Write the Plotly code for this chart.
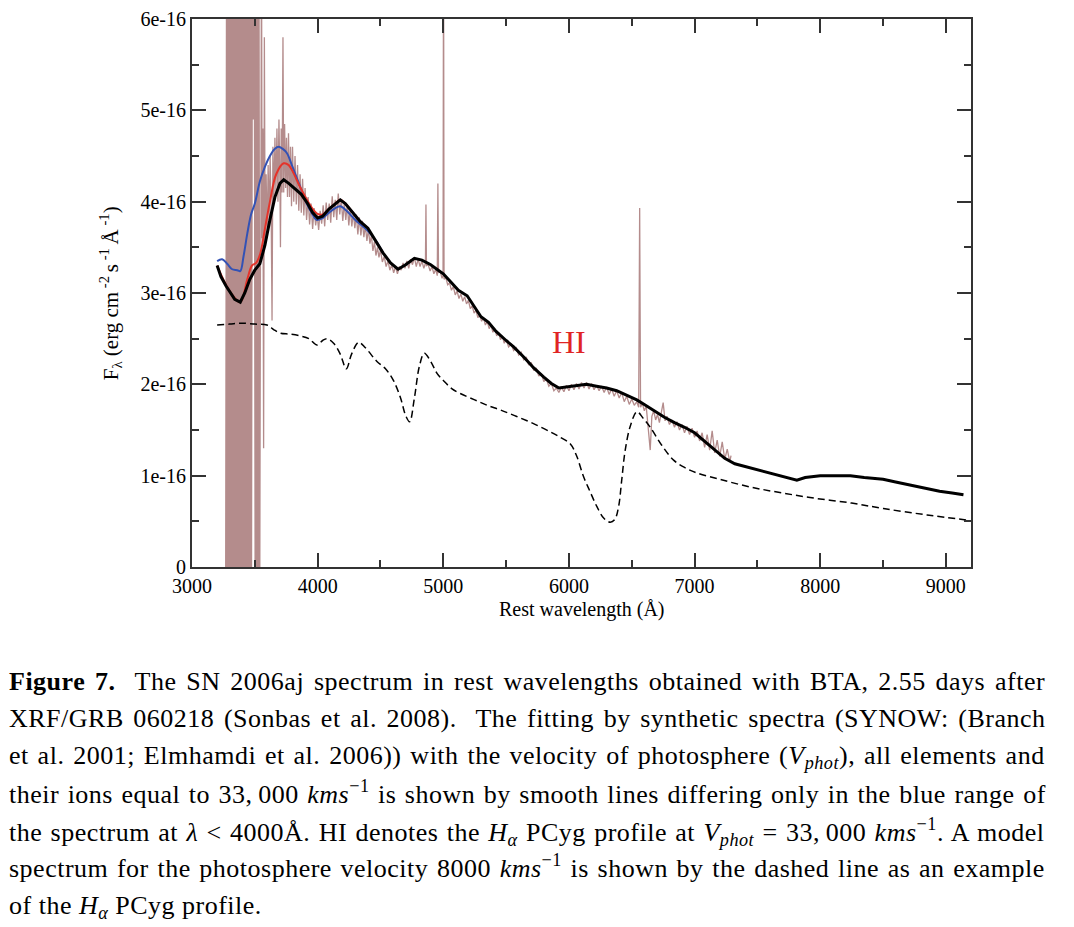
import numpy as np
import plotly.graph_objects as go

# all fluxes below are in units of 1e-16 erg cm^-2 s^-1 A^-1
SCALE = 1e-16

# saturated / noisy blue edge of the BTA spectrum
sat_wave = [3273, 3280, 3287, 3294, 3301, 3308, 3315, 3322, 3329, 3336, 3343, 3350, 3357, 3364, 3371, 3378,
            3385, 3392, 3399, 3406, 3413, 3420, 3427, 3434, 3441, 3448, 3455, 3462, 3469, 3476, 3482, 3488,
            3494, 3500, 3507, 3514, 3521, 3528, 3535, 3540]
sat_flux = [0, 7, 0, 7, 0, 7, 0, 7, 0, 7, 0, 7, 0, 7, 0, 7,
            0, 7, 0, 7, 0, 7, 0, 7, 0, 7, 0, 7, 0, 7, 4.9, 7,
            4.9, 7, 0, 7, 0, 7, 0, 3.3]

# rest of the observed BTA spectrum
obs_wave = [3540, 3548, 3553, 3558, 3564, 3570, 3576, 3582, 3590, 3598, 3606, 3614, 3622, 3630, 3637, 3644,
            3652, 3660, 3668, 3676, 3684, 3692, 3700, 3704, 3710, 3717, 3724, 3730, 3737, 3745, 3752, 3760,
            3768, 3776, 3784, 3792, 3800, 3810, 3820, 3830, 3840, 3850, 3860, 3870, 3880, 3890, 3900, 3912,
            3924, 3936, 3948, 3960, 3972, 3984, 3996, 4008, 4020, 4032, 4044, 4056, 4068, 4080, 4092, 4104,
            4116, 4128, 4140, 4152, 4164, 4176, 4188, 4200, 4212, 4224, 4236, 4248, 4260, 4272, 4284, 4296,
            4308, 4320, 4332, 4344, 4356, 4368, 4380, 4392, 4404, 4416, 4428, 4440, 4452, 4464, 4476, 4488,
            4500, 4515, 4530, 4545, 4560, 4575, 4590, 4605, 4620, 4635, 4650, 4665, 4680, 4695, 4710, 4725,
            4740, 4755, 4770, 4785, 4800, 4815, 4830, 4845, 4858, 4862, 4866, 4880, 4895, 4910, 4925, 4940,
            4952, 4957, 4962, 4975, 4990, 4998, 5002, 5006, 5020, 5035, 5050, 5065, 5080, 5095, 5110, 5125,
            5140, 5155, 5170, 5185, 5200, 5215, 5230, 5245, 5260, 5275, 5290, 5305, 5320, 5335, 5350, 5365,
            5380, 5395, 5410, 5425, 5440, 5455, 5470, 5485, 5500, 5520, 5540, 5560, 5580, 5600, 5620, 5640,
            5660, 5680, 5700, 5720, 5740, 5760, 5780, 5800, 5820, 5840, 5860, 5880, 5900, 5920, 5940, 5960,
            5980, 6000, 6020, 6040, 6060, 6080, 6100, 6120, 6140, 6160, 6180, 6200, 6220, 6240, 6260, 6280,
            6300, 6320, 6340, 6360, 6380, 6400, 6420, 6440, 6460, 6480, 6500, 6520, 6540, 6555, 6563, 6570,
            6585, 6600, 6615, 6630, 6647, 6660, 6675, 6690, 6705, 6720, 6735, 6750, 6765, 6780, 6800, 6820,
            6840, 6860, 6880, 6900, 6920, 6940, 6960, 6980, 7000, 7020, 7040, 7060, 7080, 7100, 7120, 7140,
            7160, 7180, 7200, 7220, 7240, 7260, 7280, 7290]
obs_flux = [3.3, 3.4, 7, 3.6, 4.8, 1.3, 5.8, 3.5, 4.3, 3.6, 4.4, 3.8, 4.5, 3.9, 2.7, 4.6,
            4.0, 4.7, 4.1, 4.8, 4.0, 4.9, 4.2, 3.5, 4.8, 4.1, 5.8, 4.1, 4.85, 4.15, 4.7, 4.05,
            4.75, 4.05, 4.6, 3.95, 4.6, 4.0, 4.5, 3.97, 4.4, 3.9, 4.3, 3.88, 4.25, 3.85, 4.15, 3.8,
            4.05, 3.75, 3.98, 3.7, 3.93, 3.74, 3.86, 3.69, 3.9, 3.76, 3.96, 3.73, 3.99, 3.8, 3.98, 3.77,
            4.06, 3.83, 4.02, 3.8, 4.09, 3.86, 4.03, 3.79, 3.98, 3.8, 3.97, 3.74, 3.93, 3.73, 3.88, 3.71,
            3.86, 3.64, 3.83, 3.63, 3.79, 3.61, 3.74, 3.57, 3.7, 3.54, 3.63, 3.46, 3.56, 3.41, 3.5, 3.39,
            3.47, 3.34, 3.4, 3.29, 3.35, 3.25, 3.31, 3.22, 3.29, 3.21, 3.29, 3.25, 3.33, 3.27, 3.35, 3.27,
            3.37, 3.31, 3.39, 3.29, 3.37, 3.29, 3.35, 3.27, 3.33, 3.97, 3.3, 3.31, 3.24, 3.29, 3.21, 3.26,
            3.19, 4.2, 3.22, 3.24, 3.16, 3.19, 7, 3.15, 3.17, 3.09, 3.11, 3.03, 3.07, 2.98, 3.02, 2.94,
            2.99, 2.91, 2.96, 2.88, 2.92, 2.83, 2.86, 2.78, 2.81, 2.73, 2.76, 2.69, 2.73, 2.65, 2.69, 2.61,
            2.65, 2.57, 2.61, 2.53, 2.57, 2.49, 2.53, 2.45, 2.49, 2.41, 2.44, 2.37, 2.4, 2.32, 2.35, 2.27,
            2.3, 2.21, 2.24, 2.15, 2.18, 2.09, 2.12, 2.03, 2.06, 1.98, 2.01, 1.93, 1.96, 1.91, 1.97, 1.92,
            1.99, 1.93, 2.0, 1.94, 2.01, 1.95, 2.02, 1.96, 2.02, 1.95, 2.01, 1.94, 1.99, 1.93, 1.98, 1.91,
            1.97, 1.89, 1.95, 1.87, 1.93, 1.85, 1.91, 1.81, 1.87, 1.78, 1.84, 1.77, 1.81, 1.75, 3.93, 1.75,
            1.79, 1.71, 1.76, 1.55, 1.28, 1.65, 1.71, 1.61, 1.67, 1.58, 1.69, 1.8, 1.6, 1.65, 1.56, 1.61,
            1.53, 1.59, 1.5, 1.56, 1.47, 1.54, 1.45, 1.52, 1.42, 1.49, 1.38, 1.47, 1.31, 1.45, 1.28, 1.49,
            1.25, 1.39, 1.21, 1.37, 1.18, 1.29, 1.15, 1.22]

# SYNOW fit, Vphot = 33000 km/s (black)
fit_wave = [3200, 3230, 3270, 3300, 3340, 3384, 3420, 3460, 3500, 3540, 3580, 3620, 3660, 3700, 3730, 3770,
            3820, 3870, 3920, 3960, 4000, 4040, 4090, 4140, 4180, 4220, 4280, 4340, 4400, 4460, 4520, 4580,
            4640, 4700, 4770, 4830, 4900, 4960, 5000, 5060, 5120, 5190, 5250, 5300, 5360, 5420, 5500, 5560,
            5640, 5720, 5800, 5860, 5920, 5980, 6060, 6140, 6220, 6300, 6380, 6460, 6540, 6600, 6680, 6760,
            6840, 6920, 7000, 7080, 7160, 7240, 7320, 7400, 7500, 7600, 7700, 7814, 7880, 8000, 8100, 8240,
            8350, 8500, 8600, 8700, 8820, 8950, 9050, 9140]
fit_flux = [3.30, 3.18, 3.08, 3.02, 2.93, 2.90, 3.00, 3.15, 3.25, 3.32, 3.52, 3.80, 4.05, 4.20, 4.24, 4.20,
            4.14, 4.08, 3.98, 3.88, 3.82, 3.84, 3.92, 3.98, 4.02, 3.98, 3.88, 3.78, 3.71, 3.58, 3.44, 3.33,
            3.26, 3.31, 3.38, 3.36, 3.31, 3.25, 3.21, 3.12, 3.03, 2.97, 2.84, 2.74, 2.68, 2.58, 2.48, 2.41,
            2.30, 2.18, 2.08, 2.01, 1.96, 1.97, 1.99, 2.00, 1.98, 1.96, 1.93, 1.88, 1.83, 1.78, 1.71, 1.64,
            1.58, 1.53, 1.47, 1.38, 1.28, 1.19, 1.13, 1.10, 1.07, 1.03, 0.99, 0.95, 0.98, 1.00, 1.00, 1.00,
            0.98, 0.96, 0.93, 0.90, 0.87, 0.83, 0.81, 0.79]

# alternative fits differing in the blue
blue_wave = [3200, 3240, 3280, 3320, 3360, 3384, 3410, 3440, 3470, 3500, 3540, 3580, 3620, 3660, 3690, 3720,
             3756, 3800, 3862, 3920, 3960, 3990, 4040, 4090, 4140, 4180, 4230, 4300, 4393, 4460, 4520]
blue_flux = [3.35, 3.37, 3.32, 3.26, 3.25, 3.24, 3.40, 3.65, 3.86, 3.98, 4.22, 4.38, 4.50, 4.58, 4.60, 4.58,
             4.53, 4.38, 4.16, 3.96, 3.86, 3.80, 3.82, 3.88, 3.93, 3.95, 3.90, 3.80, 3.69, 3.58, 3.44]

red_wave = [3200, 3300, 3384, 3440, 3477, 3510, 3543, 3580, 3623, 3670, 3729, 3770, 3809, 3860, 3915, 3960,
            3995, 4040, 4090, 4140, 4180, 4220, 4280, 4340, 4400]
red_flux = [3.30, 3.02, 2.90, 3.15, 3.30, 3.33, 3.43, 3.70, 4.02, 4.30, 4.42, 4.40, 4.31, 4.16, 4.02, 3.92,
            3.87, 3.86, 3.92, 3.98, 4.02, 3.98, 3.88, 3.78, 3.71]

# model for Vphot = 8000 km/s (dashed)
model_wave = [3200, 3300, 3384, 3500, 3597, 3650, 3703, 3780, 3862, 3930, 3995, 4040, 4074, 4127, 4180, 4228,
              4270, 4326, 4380, 4472, 4540, 4604, 4660, 4700, 4732, 4770, 4810, 4849, 4900, 4950, 5002, 5070,
              5135, 5250, 5350, 5453, 5580, 5718, 5851, 5931, 6010, 6060, 6116, 6170, 6223, 6280, 6329, 6365,
              6395, 6420, 6448, 6490, 6541, 6590, 6647, 6740, 6833, 6920, 7018, 7200, 7443, 7700, 7973, 8250,
              8503, 8850, 9193]
model_flux = [2.65, 2.66, 2.67, 2.66, 2.65, 2.60, 2.56, 2.55, 2.53, 2.50, 2.43, 2.48, 2.50, 2.45, 2.33, 2.17,
              2.33, 2.46, 2.40, 2.25, 2.17, 2.04, 1.85, 1.66, 1.59, 1.85, 2.20, 2.34, 2.25, 2.12, 2.04, 1.95,
              1.90, 1.83, 1.77, 1.72, 1.65, 1.57, 1.48, 1.42, 1.35, 1.22, 0.99, 0.82, 0.66, 0.53, 0.49, 0.52,
              0.66, 0.95, 1.28, 1.55, 1.70, 1.63, 1.53, 1.33, 1.17, 1.09, 1.03, 0.96, 0.876, 0.81, 0.75, 0.70,
              0.64, 0.57, 0.51]

y_ticks = [0, 1, 2, 3, 4, 5, 6]
y_ticktext = ["0", "1e-16", "2e-16", "3e-16", "4e-16", "5e-16", "6e-16"]

caption_lines = [
    "<b>Figure 7.</b>\u00a0 The SN 2006aj spectrum in rest wavelengths obtained with BTA, 2.55 days after",
    "XRF/GRB 060218 (Sonbas et al. 2008).\u00a0 The fitting by synthetic spectra (SYNOW: (Branch",
    "et al. 2001; Elmhamdi et al. 2006)) with the velocity of photosphere (<i>V<sub>phot</sub></i>), all elements and",
    "their ions equal to 33,\u2009000 <i>kms</i><sup>\u22121</sup> is shown by smooth lines differing only in the blue range of",
    "the spectrum at <i>\u03bb</i> &lt; 4000\u00c5. HI denotes the <i>H<sub>\u03b1</sub></i> PCyg profile at "
    "<i>V<sub>phot</sub></i> = 33,\u2009000 <i>kms</i><sup>\u22121</sup>. A model",
    "spectrum for the photosphere velocity 8000 <i>kms</i><sup>\u22121</sup> is shown by the dashed line as an example",
    "of the <i>H<sub>\u03b1</sub></i> PCyg profile.",
]
# word spacing used to justify each caption line (px), last line is ragged
caption_wordspace = [2.8, 2.6, 1.85, 1.5, 1.35, 1.65, 0]

SERIF = "Liberation Serif"


def main():
    s = lambda v: np.array(v) * SCALE
    fig = go.Figure(data=[
        go.Scatter(x=sat_wave, y=s(sat_flux), mode="lines", line=dict(color="#b48c8c", width=2.5)),
        go.Scatter(x=obs_wave, y=s(obs_flux), mode="lines", line=dict(color="#b48c8c", width=1.3)),
        go.Scatter(x=blue_wave, y=s(blue_flux), mode="lines", line=dict(color="#3352b5", width=2, shape="spline")),
        go.Scatter(x=red_wave, y=s(red_flux), mode="lines", line=dict(color="#e5332a", width=2, shape="spline")),
        go.Scatter(x=fit_wave, y=s(fit_flux), mode="lines", line=dict(color="black", width=3)),
        go.Scatter(x=model_wave, y=s(model_flux), mode="lines",
                   line=dict(color="black", width=1.5, dash="7px,4px", shape="spline")),
    ])

    axis_style = dict(showline=True, linecolor="#333", linewidth=2, mirror="allticks",
                      ticks="inside", ticklen=14, tickwidth=1.5, tickcolor="#333",
                      showgrid=False, zeroline=False,
                      tickfont=dict(family=SERIF, size=20, color="black"))
    fig.update_xaxes(range=[3000, 9200], tickvals=[3000, 4000, 5000, 6000, 7000, 8000, 9000],
                     minor=dict(ticks="inside", ticklen=7, tickwidth=1.5, tickcolor="#333", dtick=500, tick0=3000),
                     **axis_style)
    fig.update_yaxes(range=[0, 6 * SCALE], tickvals=[v * SCALE for v in y_ticks], ticktext=y_ticktext,
                     minor=dict(ticks="inside", ticklen=7, tickwidth=1.5, tickcolor="#333",
                                dtick=0.5 * SCALE, tick0=0),
                     **axis_style)

    notes = [
        dict(x=6000, y=2.46 * SCALE, xref="x", yref="y", text="HI", showarrow=False,
             font=dict(family=SERIF, size=32, color="#e02424")),
        dict(x=0.5, y=-0.078, xref="paper", yref="paper", xanchor="center", yanchor="middle",
             text="Rest wavelength (\u00c5)", showarrow=False,
             font=dict(family=SERIF, size=20, color="black")),
        dict(x=-0.105, y=0.5, xref="paper", yref="paper", xanchor="center", yanchor="middle",
             textangle=-90, showarrow=False,
             text="F<sub>\u03bb</sub> (erg cm<sup> -2 </sup>s<sup> -1 </sup>\u00c5<sup> -1</sup>)",
             font=dict(family=SERIF, size=21, color="black")),
    ]
    line_y = [681.7, 719, 756.7, 795, 831.7, 869, 906.7]
    line_shift = [0, 0, 0, 3, 0, 3, 0]
    for txt, py, ws, dy in zip(caption_lines, line_y, caption_wordspace, line_shift):
        styled = f'<span style="letter-spacing:0.5px;word-spacing:{ws}px">{txt}</span>'
        notes.append(dict(x=(7 - 192) / 779, y=(567 - py) / 548, xref="paper", yref="paper", yshift=dy,
                          xanchor="left", yanchor="middle", align="left", text=styled, showarrow=False,
                          font=dict(family=SERIF, size=26, color="black")))

    # page body has an 8px margin, so the figure is shrunk by that much
    fig.update_layout(width=1066, height=919, showlegend=False,
                      font=dict(family=SERIF, size=20, color="black"),
                      margin=dict(l=184, r=103, t=11, b=360, autoexpand=False),
                      paper_bgcolor="white", plot_bgcolor="white", annotations=notes)
    fig.write_html("out.html")


if __name__ == '__main__':
    main()
